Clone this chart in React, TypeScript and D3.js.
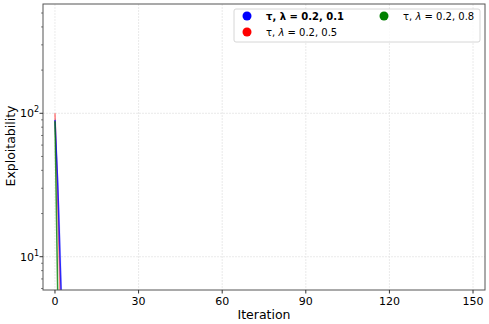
import * as React from 'react';
import * as d3 from 'd3';

const iterations = [0, 1, 2, 3];
const blueMean = [90, 32, 7.5, 2];
const blueLow = [86, 22, 4, 1];
const blueHigh = [95, 42, 14, 3];
const redMean = [100, 24, 4, 1];
const greenMean = [88, 5.2, 1, 0.5];
const xTicks = [0, 30, 60, 90, 120, 150];
const yTicks = [10, 100];

const legendItems = [
  { label: 'τ, λ = 0.2, 0.1', color: '#0000ff', bold: true },
  { label: 'τ, λ = 0.2, 0.5', color: '#ff0000', bold: false },
  { label: 'τ, λ = 0.2, 0.8', color: '#008000', bold: false },
];

const App = () => {
  const ref = React.useRef<SVGSVGElement>(null);

  React.useEffect(() => {
    const width = 489;
    const height = 324;
    const margin = { top: 4, right: 4, bottom: 34, left: 43 };
    const w = width - margin.left - margin.right;
    const h = height - margin.top - margin.bottom;

    const svg = d3.select(ref.current);
    svg.selectAll('*').remove();
    svg.attr('width', width).attr('height', height)
      .style('font-family', 'DejaVu Sans, sans-serif');

    const g = svg.append('g').attr('transform', `translate(${margin.left},${margin.top})`);
    const x = d3.scaleLinear().domain([-4.3, 154.3]).range([0, w]);
    const y = d3.scaleLog().domain([5.86, 578]).range([h, 0]);

    svg.append('defs').append('clipPath').attr('id', 'clip')
      .append('rect').attr('width', w).attr('height', h);

    // grid
    g.selectAll('.gx').data(xTicks).enter().append('line')
      .attr('x1', d => x(d)).attr('x2', d => x(d)).attr('y1', 0).attr('y2', h)
      .attr('stroke', '#e4e4e4').attr('stroke-width', 0.8).attr('stroke-dasharray', '2,1');
    g.selectAll('.gy').data(yTicks).enter().append('line')
      .attr('y1', d => y(d)).attr('y2', d => y(d)).attr('x1', 0).attr('x2', w)
      .attr('stroke', '#e4e4e4').attr('stroke-width', 0.8).attr('stroke-dasharray', '2,1');

    const plot = g.append('g').attr('clip-path', 'url(#clip)');

    const area = d3.area<number>()
      .x((d, i) => x(iterations[i]))
      .y0((d, i) => y(blueLow[i]))
      .y1((d, i) => y(blueHigh[i]));
    plot.append('path').datum(blueMean).attr('d', area)
      .attr('fill', '#0000ff').attr('opacity', 0.15);

    const line = d3.line<number>()
      .x((d, i) => x(iterations[i]))
      .y(d => y(d));

    // red underneath, then blue, green on top
    [[redMean, '#ff0000', 0.5], [blueMean, '#0000ff', 0.8], [greenMean, '#008000', 0.8]].forEach(([data, color, op]) => {
      plot.append('path').datum(data as number[]).attr('d', line)
        .attr('fill', 'none').attr('stroke', color as string).attr('stroke-width', 1.5).attr('opacity', op as number);
    });

    // spines
    g.append('rect').attr('width', w).attr('height', h)
      .attr('fill', 'none').attr('stroke', '#555').attr('stroke-width', 1);

    // x axis
    const xa = g.append('g').attr('transform', `translate(0,${h})`);
    xTicks.forEach(t => {
      xa.append('line').attr('x1', x(t)).attr('x2', x(t)).attr('y1', 0).attr('y2', 3.5).attr('stroke', '#333');
      xa.append('text').attr('x', x(t)).attr('y', 14.5).attr('text-anchor', 'middle')
        .attr('font-size', 11).attr('fill', '#000').text(t);
    });
    g.append('text').attr('x', w / 2).attr('y', h + 28.5).attr('text-anchor', 'middle')
      .attr('font-size', 12.5).text('Iteration');

    // y axis
    const ya = g.append('g');
    const minor: number[] = [];
    [1, 10, 100].forEach(dec => {
      for (let k = 2; k <= 9; k++) {
        const v = dec * k;
        if (v >= 5.86 && v <= 578) minor.push(v);
      }
    });
    minor.forEach(v => {
      ya.append('line').attr('x1', -2).attr('x2', 0).attr('y1', y(v)).attr('y2', y(v))
        .attr('stroke', '#333').attr('stroke-width', 0.6);
    });
    yTicks.forEach(t => {
      ya.append('line').attr('x1', -3.5).attr('x2', 0).attr('y1', y(t)).attr('y2', y(t)).attr('stroke', '#333');
      const txt = ya.append('text').attr('x', -4).attr('y', y(t) + 4).attr('text-anchor', 'end')
        .attr('font-size', 11).attr('fill', '#000');
      txt.append('tspan').text('10');
      txt.append('tspan').attr('dy', -5).attr('font-size', 8).text(String(Math.round(Math.log10(t))));
    });
    svg.append('text').attr('transform', `translate(15,${margin.top + 142}) rotate(-90)`)
      .attr('text-anchor', 'middle').attr('font-size', 12.5).text('Exploitability');

    // legend
    const lg = svg.append('g');
    lg.append('rect').attr('x', 234).attr('y', 9).attr('width', 246).attr('height', 33).attr('rx', 2)
      .attr('fill', '#fff').attr('fill-opacity', 0.8).attr('stroke', '#ccc').attr('stroke-width', 0.8);
    const pos = [[247, 16], [247, 32], [384, 16]];
    legendItems.forEach((item, i) => {
      const [cx, cy] = pos[i];
      lg.append('circle').attr('cx', cx).attr('cy', cy).attr('r', 4.5).attr('fill', item.color);
      const t = lg.append('text').attr('x', cx + 19).attr('y', cy + 3.5).attr('font-size', 10)
        .attr('font-weight', item.bold ? 'bold' : 'normal');
      if (item.bold) {
        t.text(item.label);
      } else {
        t.append('tspan').text('τ, ');
        t.append('tspan').attr('font-style', 'italic').text('λ');
        t.append('tspan').text(item.label.slice(4));
      }
    });
  }, []);

  return <svg ref={ref} style={{ position: 'absolute', left: 0, top: 0 }}></svg>;
};

export default App;
